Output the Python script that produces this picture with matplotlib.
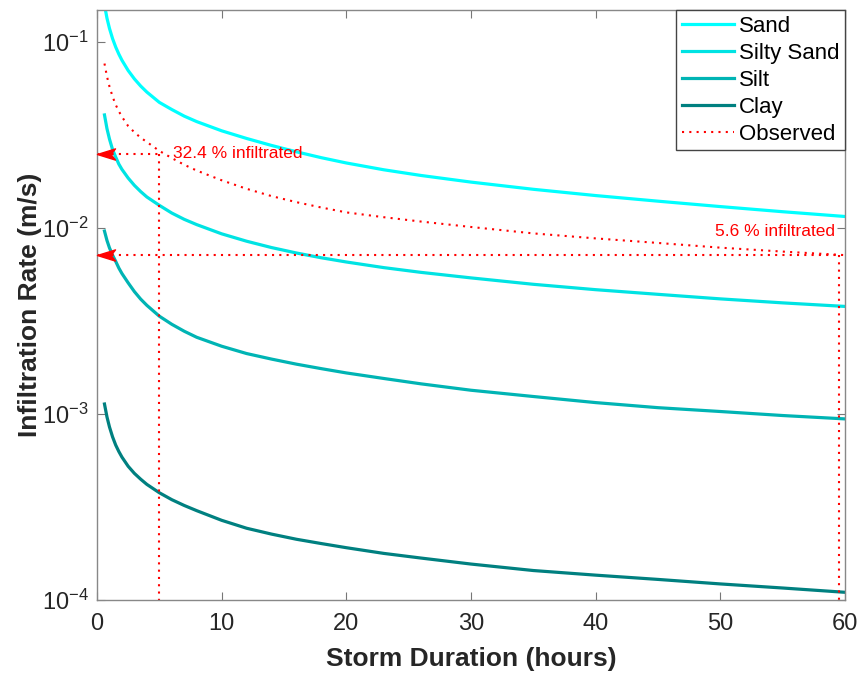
import numpy as np
import matplotlib
matplotlib.use("Agg")
import matplotlib.pyplot as plt
from matplotlib.path import Path

plt.rcParams["font.family"] = ["Liberation Sans", "DejaVu Sans"]
plt.rcParams["mathtext.fontset"] = "custom"
plt.rcParams["mathtext.rm"] = "Liberation Sans"

# storm duration (hours) and rates (m/s)
hours = [0.6, 0.8, 1, 1.25, 1.5, 1.75, 2, 2.5, 3, 3.5, 4, 5, 6, 7, 8, 10, 12, 14, 16, 18,
         20, 23, 26, 30, 35, 40, 45, 50, 55, 60]

rate_sand = [0.1575, 0.1338, 0.1179, 0.1038, 0.0936, 0.0858, 0.0795, 0.0700, 0.0631, 0.0578,
             0.0536, 0.0472, 0.0432, 0.0398, 0.0372, 0.0332, 0.0302, 0.0277, 0.0256, 0.0238,
             0.0223, 0.0205, 0.0191, 0.0176, 0.0161, 0.0149, 0.0139, 0.0130, 0.0122, 0.0115]

rate_silty = [0.0404, 0.0341, 0.0300, 0.0263, 0.0240, 0.0220, 0.0206, 0.0185, 0.0169, 0.01566,
              0.01464, 0.0132, 0.0120, 0.0111, 0.01040, 0.00928, 0.00847, 0.00783, 0.00732,
              0.00690, 0.00655, 0.00611, 0.00576, 0.00538, 0.00497, 0.00465, 0.00439,
              0.00415, 0.00395, 0.00378]

rate_silt = [0.0096, 0.00855, 0.0078, 0.00713, 0.0066, 0.00608, 0.00568, 0.00506, 0.00454,
             0.00414, 0.00383, 0.00335, 0.00303, 0.00278, 0.00258, 0.00231, 0.00211, 0.00197,
             0.00185, 0.00175, 0.00166, 0.00155, 0.00145, 0.00134, 0.00124, 0.00115,
             0.00108, 0.00103, 0.00098, 0.00094]

rate_clay = [0.00113, 0.000963, 0.000851, 0.000752, 0.00068, 0.000628, 0.000586, 0.000523,
             0.000479, 0.000446, 0.000418, 0.000377, 0.000346, 0.000322, 0.000302, 0.000268,
             0.000243, 0.000226, 0.000212, 0.000201, 0.000191, 0.000178, 0.000168, 0.000156,
             0.000144, 0.000136, 0.000129, 0.000122, 0.000116, 0.00011]

rate_obs = [0.0763, 0.0650, 0.0574, 0.0507, 0.0458, 0.0423, 0.0395, 0.0352, 0.0326, 0.0305,
            0.0289, 0.0259, 0.0237, 0.0218, 0.0203, 0.0180, 0.0162, 0.0148, 0.01373, 0.01285,
            0.0121, 0.0114, 0.0108, 0.0101, 0.00933, 0.00877, 0.00829, 0.00782, 0.00745,
            0.00713]

mark_hours = [5, 59.5]
mark_rates = [0.025, 0.00716]
mark_labels = ["32.4 % infiltrated", "5.6 % infiltrated"]

fig = plt.figure(figsize=(8.61, 6.73), dpi=100)
ax = fig.add_axes([97 / 861, 73 / 673, 748 / 861, 590 / 673])
ax.set_yscale("log")

lw = 2.3
dots = (0, (1, 2.5))
ax.plot(hours, rate_sand, color="#00FFFF", lw=lw, label="Sand")
ax.plot(hours, rate_silty, color="#00E3E3", lw=lw, label="Silty Sand")
ax.plot(hours, rate_silt, color="#00B4B4", lw=lw, label="Silt")
ax.plot(hours, rate_clay, color="#008080", lw=lw, label="Clay")
ax.plot(hours, rate_obs, color="red", lw=1.5, ls=dots, label="Observed")

ymin, ymax = 1e-4, 0.148
# concave arrow head, pointing left
arrow = Path([(-1, 0), (1, 0.62), (0.5, 0), (1, -0.62), (-1, 0)],
             [Path.MOVETO, Path.LINETO, Path.LINETO, Path.LINETO, Path.CLOSEPOLY])

for h, r in zip(mark_hours, mark_rates):
    ax.plot([0, h], [r, r], color="red", lw=1.5, ls=dots)
    ax.plot([h, h], [r, ymin], color="red", lw=1.5, ls=dots)
    ax.plot([0.72], [r], marker=arrow, markersize=13, color="red", mec="red",
            clip_on=False, zorder=5)

ax.text(6.1, mark_rates[0], mark_labels[0], color="red", fontsize=12.5,
        va="center", ha="left")
ax.text(59.2, 0.0095, mark_labels[1], color="red", fontsize=12.5,
        va="center", ha="right")

ax.set_xlim(0, 60)
ax.set_ylim(ymin, ymax)
ax.set_xticks([0, 10, 20, 30, 40, 50, 60])
ax.set_yticks([1e-4, 1e-3, 1e-2, 1e-1])
ax.minorticks_off()
ax.tick_params(direction="in", length=5.5, width=0.8, color="#777777",
               labelsize=17, labelcolor="#262626", top=True, right=True)
ax.tick_params(axis="x", pad=9)
ax.tick_params(axis="y", pad=6)
for s in ax.spines.values():
    s.set_color("#888888")
    s.set_linewidth(1.0)

ax.set_xlabel("Storm Duration (hours)", fontsize=19, fontweight="bold",
              color="#262626", labelpad=9)
ax.set_ylabel("Infiltration Rate (m/s)", fontsize=19, fontweight="bold",
              color="#262626", labelpad=0)

leg = ax.legend(loc="upper right", bbox_to_anchor=(1.0, 1.0), borderaxespad=0,
                fontsize=16, fancybox=False, framealpha=1, edgecolor="#444444",
                handlelength=2.35, handletextpad=0.22, labelspacing=0.27,
                borderpad=0.25)
leg.get_frame().set_linewidth(1.0)

fig.savefig("out.png", dpi=100)
